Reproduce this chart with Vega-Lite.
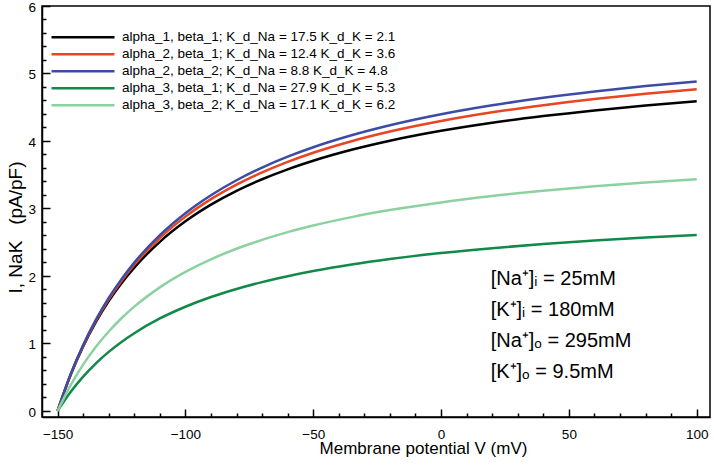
{
  "$schema": "https://vega.github.io/schema/vega-lite/v6.json",
  "width": 668,
  "height": 411,
  "autosize": "none",
  "padding": {"left": 42, "top": 6, "right": 4, "bottom": 49},
  "background": "white",
  "config": {
    "font": "Liberation Sans",
    "view": {"stroke": "black", "strokeWidth": 1.5},
    "axis": {
      "labelFont": "Liberation Sans",
      "labelFontSize": 13.5,
      "labelColor": "black",
      "titleFont": "Liberation Sans",
      "titleFontSize": 17,
      "titleFontWeight": "normal",
      "titleColor": "black",
      "domainColor": "black",
      "domainWidth": 1.5,
      "tickColor": "black",
      "tickWidth": 1.5,
      "grid": false
    }
  },
  "datasets": {
    "curves": [
      {"V": -150, "a1b1": 0, "a2b1": 0, "a2b2": 0, "a3b1": 0, "a3b2": 0},
      {"V": -145, "a1b1": 0.524, "a2b1": 0.528, "a2b2": 0.533, "a3b1": 0.276, "a3b2": 0.375},
      {"V": -140, "a1b1": 0.956, "a2b1": 0.966, "a2b2": 0.977, "a3b1": 0.508, "a3b2": 0.687},
      {"V": -135, "a1b1": 1.319, "a2b1": 1.336, "a2b2": 1.352, "a3b1": 0.705, "a3b2": 0.951},
      {"V": -130, "a1b1": 1.627, "a2b1": 1.652, "a2b2": 1.674, "a3b1": 0.875, "a3b2": 1.177},
      {"V": -125, "a1b1": 1.892, "a2b1": 1.926, "a2b2": 1.953, "a3b1": 1.023, "a3b2": 1.373},
      {"V": -120, "a1b1": 2.123, "a2b1": 2.165, "a2b2": 2.198, "a3b1": 1.152, "a3b2": 1.545},
      {"V": -110, "a1b1": 2.506, "a2b1": 2.562, "a2b2": 2.604, "a3b1": 1.370, "a3b2": 1.831},
      {"V": -100, "a1b1": 2.809, "a2b1": 2.879, "a2b2": 2.930, "a3b1": 1.544, "a3b2": 2.060},
      {"V": -90, "a1b1": 3.056, "a2b1": 3.138, "a2b2": 3.196, "a3b1": 1.688, "a3b2": 2.247},
      {"V": -80, "a1b1": 3.261, "a2b1": 3.353, "a2b2": 3.418, "a3b1": 1.807, "a3b2": 2.403},
      {"V": -70, "a1b1": 3.433, "a2b1": 3.535, "a2b2": 3.606, "a3b1": 1.909, "a3b2": 2.535},
      {"V": -60, "a1b1": 3.580, "a2b1": 3.691, "a2b2": 3.767, "a3b1": 1.996, "a3b2": 2.649},
      {"V": -50, "a1b1": 3.707, "a2b1": 3.826, "a2b2": 3.907, "a3b1": 2.072, "a3b2": 2.747},
      {"V": -35, "a1b1": 3.869, "a2b1": 3.997, "a2b2": 4.084, "a3b1": 2.169, "a3b2": 2.872},
      {"V": -20, "a1b1": 4.003, "a2b1": 4.140, "a2b2": 4.232, "a3b1": 2.250, "a3b2": 2.976},
      {"V": 0, "a1b1": 4.150, "a2b1": 4.296, "a2b2": 4.395, "a3b1": 2.339, "a3b2": 3.090},
      {"V": 20, "a1b1": 4.270, "a2b1": 4.425, "a2b2": 4.528, "a3b1": 2.412, "a3b2": 3.184},
      {"V": 40, "a1b1": 4.369, "a2b1": 4.531, "a2b2": 4.639, "a3b1": 2.473, "a3b2": 3.262},
      {"V": 60, "a1b1": 4.453, "a2b1": 4.622, "a2b2": 4.733, "a3b1": 2.525, "a3b2": 3.328},
      {"V": 80, "a1b1": 4.525, "a2b1": 4.699, "a2b2": 4.814, "a3b1": 2.569, "a3b2": 3.384},
      {"V": 100, "a1b1": 4.588, "a2b1": 4.766, "a2b2": 4.883, "a3b1": 2.608, "a3b2": 3.433}
    ],
    "names": [
      {"k": "a1b1", "label": "alpha_1, beta_1; K_d_Na = 17.5 K_d_K = 2.1"},
      {"k": "a2b1", "label": "alpha_2, beta_1; K_d_Na = 12.4 K_d_K = 3.6"},
      {"k": "a2b2", "label": "alpha_2, beta_2; K_d_Na = 8.8 K_d_K = 4.8"},
      {"k": "a3b1", "label": "alpha_3, beta_1; K_d_Na = 27.9 K_d_K = 5.3"},
      {"k": "a3b2", "label": "alpha_3, beta_2; K_d_Na = 17.1 K_d_K = 6.2"}
    ],
    "notes": [
      {"V": 19.4, "I": 1.87, "label": "[Na⁺]ᵢ = 25mM"},
      {"V": 19.4, "I": 1.41, "label": "[K⁺]ᵢ = 180mM"},
      {"V": 19.4, "I": 0.95, "label": "[Na⁺]ₒ = 295mM"},
      {"V": 19.4, "I": 0.49, "label": "[K⁺]ₒ = 9.5mM"}
    ]
  },
  "resolve": {"axis": {"x": "independent", "y": "independent"}},
  "layer": [
    {
      "data": {"name": "curves"},
      "transform": [
        {"fold": ["a1b1", "a2b1", "a2b2", "a3b1", "a3b2"], "as": ["k", "I"]},
        {"lookup": "k", "from": {"data": {"name": "names"}, "key": "k", "fields": ["label"]}}
      ],
      "mark": {"type": "line", "strokeWidth": 2.5, "interpolate": "monotone", "clip": true},
      "encoding": {
        "x": {
          "field": "V", "type": "quantitative",
          "scale": {"domain": [-156.1, 105.2], "nice": false, "zero": false},
          "axis": {
            "orient": "bottom",
            "values": [-150, -100, -50, 0, 50, 100],
            "tickSize": -8,
            "labelPadding": 18,
            "title": "Membrane potential V (mV)",
            "titleX": 381,
            "titleY": 36,
            "titleAlign": "center",
            "titleBaseline": "alphabetic"
          }
        },
        "y": {
          "field": "I", "type": "quantitative",
          "scale": {"domain": [-0.09, 6], "nice": false, "zero": false},
          "axis": {
            "orient": "left",
            "values": [0, 1, 2, 3, 4, 5, 6],
            "tickSize": -8,
            "labelPadding": 14.5,
            "labelOffset": 1.5,
            "title": "I, NaK\u00a0\u00a0\u00a0(pA/pF)",
            "titleFontSize": 19,
            "titleX": -21,
            "titleY": 221,
            "titleAlign": "center",
            "titleBaseline": "alphabetic"
          }
        },
        "color": {
          "field": "label", "type": "nominal",
          "scale": {
            "domain": [
              "alpha_1, beta_1; K_d_Na = 17.5 K_d_K = 2.1",
              "alpha_2, beta_1; K_d_Na = 12.4 K_d_K = 3.6",
              "alpha_2, beta_2; K_d_Na = 8.8 K_d_K = 4.8",
              "alpha_3, beta_1; K_d_Na = 27.9 K_d_K = 5.3",
              "alpha_3, beta_2; K_d_Na = 17.1 K_d_K = 6.2"
            ],
            "range": ["#000000", "#EA4420", "#3C4CA4", "#12894A", "#8CD2A0"]
          },
          "legend": {
            "orient": "none",
            "legendX": 8,
            "legendY": 24.5,
            "title": null,
            "padding": 0,
            "symbolType": "stroke",
            "symbolSize": 3969,
            "symbolStrokeWidth": 2.5,
            "clipHeight": 13.5,
            "labelFont": "Liberation Sans",
            "labelFontSize": 13.5,
            "labelColor": "black",
            "labelLimit": 0,
            "labelOffset": 6,
            "rowPadding": 2
          }
        }
      }
    },
    {
      "data": {"name": "notes"},
      "mark": {"type": "text", "align": "left", "baseline": "alphabetic", "fontSize": 20, "font": "Liberation Sans", "color": "black"},
      "encoding": {
        "x": {
          "field": "V", "type": "quantitative",
          "axis": {
            "orient": "bottom",
            "values": [-140, -130, -120, -110, -90, -80, -70, -60, -40, -30, -20, -10, 10, 20, 30, 40, 60, 70, 80, 90],
            "tickSize": -4,
            "labels": false,
            "domain": false,
            "title": null
          }
        },
        "y": {
          "field": "I", "type": "quantitative",
          "axis": {
            "orient": "left",
            "values": [0.2, 0.4, 0.6, 0.8, 1.2, 1.4, 1.6, 1.8, 2.2, 2.4, 2.6, 2.8, 3.2, 3.4, 3.6, 3.8, 4.2, 4.4, 4.6, 4.8, 5.2, 5.4, 5.6, 5.8],
            "tickSize": -4,
            "labels": false,
            "domain": false,
            "title": null
          }
        },
        "text": {"field": "label"}
      }
    }
  ]
}
